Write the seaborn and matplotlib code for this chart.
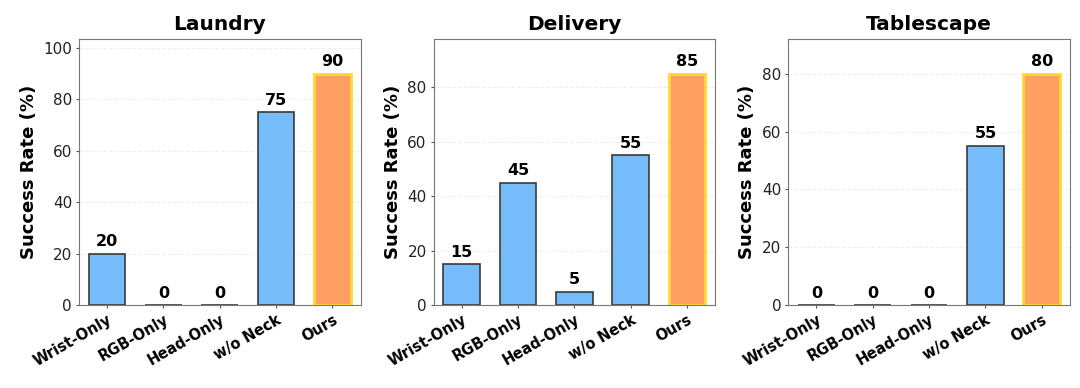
import matplotlib
matplotlib.use("Agg")
import matplotlib.pyplot as plt
import seaborn as sns
import pandas as pd

methods = ["Wrist-Only", "RGB-Only", "Head-Only", "w/o Neck", "Ours"]
tasks = ["Laundry", "Delivery", "Tablescape"]
laundry = [20, 0, 0, 75, 90]
delivery = [15, 45, 5, 55, 85]
tablescape = [0, 0, 0, 55, 80]
series = [laundry, delivery, tablescape]

blue = "#77BCFA"
orange = "#FFA062"
sns.set_style("ticks")
plt.rcParams['font.family'] = ['DejaVu Sans']
plt.rcParams['text.color'] = 'black'
plt.rcParams['axes.labelcolor'] = 'black'
plt.rcParams['xtick.color'] = '#555555'
plt.rcParams['ytick.color'] = '#555555'
plt.rcParams['xtick.labelcolor'] = 'black'
plt.rcParams['ytick.labelcolor'] = '#222222'

fig, axes = plt.subplots(1, 3, figsize=(10.8, 3.88), dpi=100)
for ax, task, vals in zip(axes, tasks, series):
    df = pd.DataFrame({"method": methods, "rate": vals})
    palette = {m: (orange if m == "Ours" else blue) for m in methods}
    sns.barplot(data=df, x="method", y="rate", hue="method", palette=palette,
                ax=ax, legend=False, width=0.65, saturation=1)
    for patch, m in zip(ax.patches, methods):
        if m == "Ours":
            patch.set_edgecolor("#FFD92F")
            patch.set_linewidth(2)
        else:
            patch.set_edgecolor("#3a3a3a")
            patch.set_linewidth(1.2)
    for i, v in enumerate(vals):
        ax.text(i, v + max(vals) * 0.02, f"{v}", ha="center", va="bottom",
                fontsize=11.5, fontweight="bold", color="black")
    ax.set_ylim(0, max(vals) * 1.15)
    ax.set_title(task, fontsize=14.5, fontweight="bold", color="black")
    ax.set_xlabel("")
    ax.set_ylabel("Success Rate (%)", fontsize=13, fontweight="bold", color="black",
                  labelpad=4)
    ax.grid(axis="y", linestyle="--", alpha=0.3)
    ax.set_axisbelow(True)
    ax.tick_params(axis="both", length=2.5, pad=2.5)
    ax.tick_params(axis="y", labelsize=11)
    ax.set_xticks(range(len(methods)))
    ax.set_xticklabels(methods, rotation=30, ha="right", rotation_mode="anchor",
                       fontsize=10.5, fontweight="bold", color="black")
    for s in ax.spines.values():
        s.set_color("#777777")

plt.subplots_adjust(left=0.0731, right=0.9907, top=0.9, bottom=0.213, wspace=0.259)
fig.savefig("out.png", dpi=100)
